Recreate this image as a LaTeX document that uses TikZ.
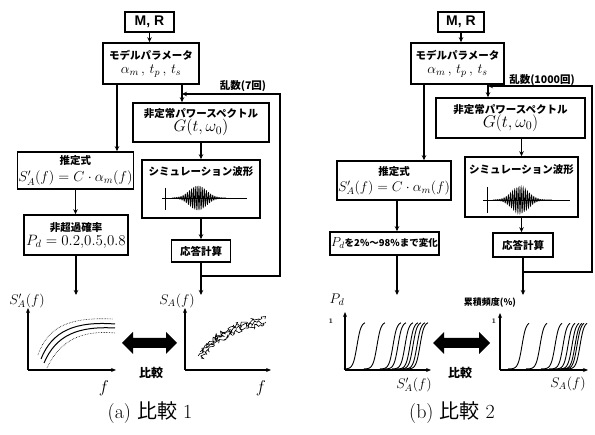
\RequirePackage{fix-cm}
\documentclass[tikz,border=0pt]{standalone}
\usepackage{fontspec}
\newfontfamily\jp{Noto Sans CJK JP}
\newfontfamily\lsans{Liberation Sans}
\usetikzlibrary{arrows.meta,decorations.pathmorphing}
\begin{document}
\begin{tikzpicture}[x=1pt,y=-1pt,
  box/.style={draw, line width=1.6pt, inner sep=1pt, align=center,
    font=\jp\bfseries\fontsize{10.5}{14}\selectfont},
  jtxt/.style={font=\jp\bfseries\fontsize{10.5}{12}\selectfont, inner sep=0pt},
  arr/.style={line width=1.3pt, -{Stealth[length=5pt,width=4.5pt]}},
  fb/.style={line width=1.3pt, -{Stealth[length=5pt,width=4.5pt]}},
  axis/.style={line width=1.3pt, -{Stealth[length=5pt,width=4pt]}},
  lab/.style={font=\fontsize{14}{14}\selectfont, inner sep=0pt},
  mr/.style={box, font=\lsans\bfseries\fontsize{14}{16}\selectfont},
  captxt/.style={font=\fontsize{20}{20}\selectfont, inner sep=0pt},
  big/.style={fill=black},
  wave/.style={line width=0.7pt},
  sig/.style={line width=0.9pt}]
\useasboundingbox (0,0) rectangle (595,435);
\fill[white] (0,0) rectangle (595,435);

% ================= (a) =================
\node[mr, minimum width=49pt, minimum height=20pt] (mrA) at (149.5,22) {M, R};
\node[box, minimum width=96pt, minimum height=41pt] (modA) at (151,63.5)
  {モデルパラメータ\\ \fontsize{14}{13}\selectfont$\alpha_m\,,\,t_p\,,\,t_s$};
\node[box, minimum width=136pt, minimum height=39pt] (nsA) at (201,122.5)
  {非定常パワースペクトル\\ \fontsize{16.5}{16}\selectfont$G(t,\omega_0)$};
\node[box, minimum width=118pt, minimum height=58pt] (simA) at (201,189) {};
\node[jtxt] (simtA) at (201,172) {シミュレーション波形};
\node[box, minimum width=59pt, minimum height=22pt] (rsA) at (201,251) {応答計算};
\node[box, minimum width=105pt, minimum height=37pt] (esA) at (75.5,170.5)
  {推定式\\[2.5pt] \fontsize{14.4}{14}\selectfont$S'_A(f)=C\cdot\alpha_m(f)$};
\node[box, minimum width=104pt, minimum height=40pt] (pdA) at (76,235)
  {非超過確率\\ \fontsize{15}{15}\selectfont$P_d=0.2{,}0.5{,}0.8$};
\node[jtxt] (rnA) at (243,86) {乱数(7回)};

\draw[arr] (mrA.south) -- (mrA.south |- modA.north);
\draw[arr] ([xshift=-34pt]modA.south) -- ([xshift=-34pt]modA.south |- esA.north);
\draw[arr] ([xshift=31pt]modA.south) -- ([xshift=31pt]modA.south |- nsA.north);
\draw[arr] (nsA.south -| simA.north) -- (simA.north);
\draw[arr] (simA.south) -- (simA.south |- rsA.north);
\draw[arr] (esA.south) -- (esA.south |- pdA.north);
\coordinate (outA1) at (76,295);
\coordinate (outA2) at (201,295);
\draw[arr] (pdA.south -| outA1) -- (outA1);
\draw[arr] (rsA.south) -- (outA2);
\coordinate (fbA1) at (201,276);
\coordinate (fbA2) at (280,276);
\coordinate (fbA3) at (280,94);
\coordinate (fbA4) at (182,94);
\draw[fb] (fbA1) -- (fbA2) -- (fbA3) -- (fbA4);

% waveform A
\draw[line width=0.9pt] (162,198) -- (247,198);
\draw[line width=0.9pt] (165,188) -- (165,210);
\draw[wave] plot[domain=172:226, samples=460]
  (\x, {198 - 12*exp(-((\x-198)/12)*((\x-198)/12))*sin(170*(\x-172))});

% graph A1
\coordinate (oA1) at (28,370);
\draw[axis] (oA1) -- (28,308);
\draw[axis] (oA1) -- (116,370);
\node[lab] (yA1) at (27,301) {$S'_A(f)$};
\node[lab, font=\fontsize{17}{17}\selectfont] (xA1) at (104,388) {$f$};
\draw[line width=0.6pt, densely dotted] (38,355) .. controls (48,326) and (70,317) .. (113,319);
\draw[line width=1pt] (41,359) .. controls (52,331) and (75,321) .. (115,324);
\draw[line width=1pt] (44,363) .. controls (56,335) and (78,326) .. (115,328);
\draw[line width=0.6pt, densely dotted] (47,368) .. controls (60,340) and (82,330) .. (115,333);

% graph A2
\coordinate (oA2) at (185,370);
\draw[axis] (oA2) -- (185,308);
\draw[axis] (oA2) -- (271,370);
\node[lab] (yA2) at (177,301) {$S_A(f)$};
\node[lab, font=\fontsize{17}{17}\selectfont] (xA2) at (261,388) {$f$};
\pgfmathsetseed{11}
\draw[line width=0.6pt, decorate, decoration={random steps, segment length=1.6pt, amplitude=2.6pt}]
  (198,356) .. controls (215,336) and (235,324) .. (266,322);
\draw[line width=0.6pt, decorate, decoration={random steps, segment length=1.8pt, amplitude=3pt}]
  (200,352) .. controls (217,333) and (238,321) .. (265,319);
\draw[line width=0.6pt, decorate, decoration={random steps, segment length=1.4pt, amplitude=2.2pt}]
  (201,358) .. controls (218,339) and (238,327) .. (264,325);

% double arrow A
\fill[big] (122,343) -- (133,332) -- (133,338) -- (166,338) -- (166,332) -- (177,343)
  -- (166,354) -- (166,348) -- (133,348) -- (133,354) -- cycle;
\node[jtxt, font=\jp\bfseries\fontsize{12}{12}\selectfont] (cmpA) at (151,373) {比較};
\node[captxt] (capA) at (150,413) {(a) {\jp 比較} 1};

% ================= (b) =================
\node[mr, minimum width=46pt, minimum height=20pt] (mrB) at (461,22) {M, R};
\node[box, minimum width=93pt, minimum height=41pt] (modB) at (457.5,63.5)
  {モデルパラメータ\\ \fontsize{14}{13}\selectfont$\alpha_m\,,\,t_p\,,\,t_s$};
\node[box, minimum width=149pt, minimum height=40pt] (nsB) at (510.5,118)
  {非定常パワースペクトル\\ \fontsize{17}{16}\selectfont$G(t,\omega_0)$};
\node[box, minimum width=113pt, minimum height=60pt] (simB) at (521.5,187) {};
\node[jtxt] (simtB) at (521.5,170) {シミュレーション波形};
\node[box, minimum width=60pt, minimum height=24pt] (rsB) at (523,245) {応答計算};
\node[box, minimum width=102pt, minimum height=39pt] (esB) at (394,180.5)
  {推定式\\[2.5pt] \fontsize{14}{14}\selectfont$S'_A(f)=C\cdot\alpha_m(f)$};
\node[box, minimum width=103pt, minimum height=23pt, font=\jp\bfseries\fontsize{9.5}{11}\selectfont] (pdB) at (384.5,243.5)
  {{\fontsize{13}{12}\selectfont$P_d$}を2\%～98\%まで変化};
\node[jtxt] (rnB) at (542,80) {乱数(1000回)};

\draw[arr] (mrB.south) -- (mrB.south |- modB.north);
\draw[arr] ([xshift=-33.5pt]modB.south) -- ([xshift=-33.5pt]modB.south |- esB.north);
\draw[arr] ([xshift=30.5pt]modB.south) -- ([xshift=30.5pt]modB.south |- nsB.north);
\draw[arr] (nsB.south -| simB.north) -- (simB.north);
\draw[arr] (simB.south) -- (simB.south |- rsB.north);
\draw[arr] ([xshift=3pt]esB.south) -- ([xshift=3pt]esB.south |- pdB.north);
\coordinate (outB1) at (397,295);
\coordinate (outB2) at (523,295);
\draw[arr] (pdB.south -| outB1) -- (outB1);
\draw[arr] (rsB.south) -- (outB2);
\coordinate (fbB1) at (523,272);
\coordinate (fbB2) at (592,272);
\coordinate (fbB3) at (592,86);
\coordinate (fbB4) at (488,86);
\draw[fb] (fbB1) -- (fbB2) -- (fbB3) -- (fbB4);

% waveform B
\draw[line width=0.9pt] (483,200) -- (570,200);
\draw[line width=0.9pt] (487,187) -- (487,213);
\draw[wave] plot[domain=493:552, samples=480]
  (\x, {200 - 13*exp(-((\x-520)/12)*((\x-520)/12))*sin(170*(\x-493))});

% graph B1
\coordinate (oB1) at (345,370);
\draw[axis] (oB1) -- (345,312);
\draw[axis] (oB1) -- (431,370);
\node[lab, font=\fontsize{14}{14}\selectfont] (yB1) at (337,300) {$P_d$};
\node[font=\bfseries\fontsize{7}{7}\selectfont, inner sep=0pt] (oneB1) at (331,321) {1};
\node[lab] (xB1) at (414,385) {$S'_A(f)$};
\foreach \c in {357,377,393,398,405,410,413,417,420} {
  \pgfmathsetmacro\ca{\c-13}\pgfmathsetmacro\cb{\c+8}
  \draw[sig] plot[domain=\ca:\cb, samples=40] (\x, {369 - 47/(1+exp(-(\x-\c)/2))});
}

% graph B2
\coordinate (oB2) at (500,370);
\draw[axis] (oB2) -- (500,313);
\draw[axis] (oB2) -- (588,370);
\node[jtxt, font=\jp\bfseries\fontsize{9}{9}\selectfont] (yB2) at (490,303) {累積頻度(\%)};
\node[font=\bfseries\fontsize{7}{7}\selectfont, inner sep=0pt] (oneB2) at (494,321) {1};
\node[lab] (xB2) at (568,384) {$S_A(f)$};
\foreach \c in {522,540,555,563,568,572,575,577,580} {
  \pgfmathsetmacro\ca{\c-14}\pgfmathsetmacro\cb{\c+7}
  \draw[sig] plot[domain=\ca:\cb, samples=40] (\x, {369 - 47/(1+exp(-(\x-\c)/2))});
}

% double arrow B
\fill[big] (433,343) -- (444,332) -- (444,338) -- (479,338) -- (479,332) -- (490,343)
  -- (479,354) -- (479,348) -- (444,348) -- (444,354) -- cycle;
\node[jtxt, font=\jp\bfseries\fontsize{12}{12}\selectfont] (cmpB) at (460,373) {比較};
\node[captxt] (capB) at (452,413) {(b) {\jp 比較} 2};
\end{tikzpicture}
\end{document}
